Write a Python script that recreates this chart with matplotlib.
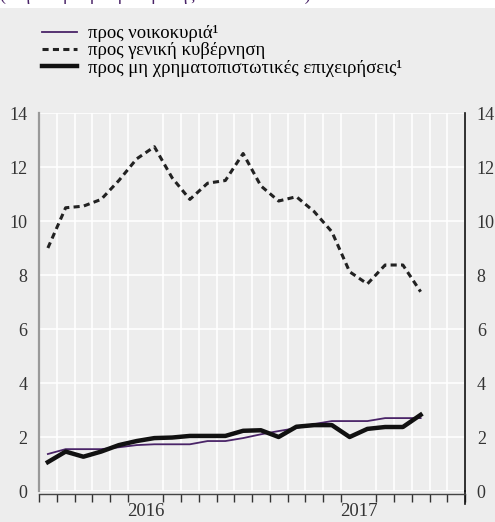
import numpy as np
import matplotlib.pyplot as plt
from matplotlib.patches import Rectangle

plt.rcParams['font.family'] = ['Liberation Serif', 'DejaVu Serif']

# μηνιαία στοιχεία Ιαν. 2016 - Οκτ. 2017 (%)
households = [1.37, 1.55, 1.55, 1.55, 1.62, 1.70, 1.73, 1.73, 1.73, 1.85, 1.85, 1.96,
              2.10, 2.22, 2.33, 2.48, 2.59, 2.59, 2.59, 2.70, 2.70, 2.70]
government = [9.0, 10.49, 10.55, 10.8, 11.5, 12.3, 12.75, 11.6, 10.8, 11.4, 11.5, 12.5,
              11.3, 10.74, 10.9, 10.35, 9.6, 8.12, 7.67, 8.37, 8.37, 7.38]
nfc = [1.07, 1.46, 1.27, 1.46, 1.70, 1.85, 1.96, 1.98, 2.04, 2.04, 2.04, 2.23,
       2.25, 2.0, 2.38, 2.44, 2.44, 2.0, 2.3, 2.37, 2.37, 2.82]
years = ['2016', '2017']
n_months = 24
yticks = [0, 2, 4, 6, 8, 10, 12, 14]

bg = '#ededed'
purple = '#4a2468'

fig = plt.figure(figsize=(4.95, 5.22), dpi=100, facecolor=bg)
fig.patches.append(Rectangle((0, 1 - 8 / 522), 1, 8 / 522, transform=fig.transFigure,
                             facecolor='white', edgecolor='none', zorder=0))
fig.text(0.0, 1.008, '(ετήσιοι ρυθμοί μεταβολής του υπολοίπου)', color=purple,
         fontsize=13, va='center', ha='left')

ax = fig.add_axes([39 / 495, 1 - 491 / 522, 426 / 495, 378 / 522])
ax.set_facecolor(bg)

x = np.arange(len(households)) + 0.5
ax.plot(x, households, color=purple, lw=1.3, label='προς νοικοκυριά¹', zorder=3)
ax.plot(x, government, color='#222222', lw=2.2, ls=(0, (2, 1.4)),
        label='προς γενική κυβέρνηση', zorder=3)
ax.plot(x, nfc, color='#111111', lw=3.2, label='προς μη χρηματοπιστωτικές επιχειρήσεις¹',
        zorder=4)

ax.set_xlim(0, n_months)
ax.set_ylim(0, 14)

# πλέγμα
ax.set_yticks(yticks)
ax.set_xticks(np.arange(0, n_months + 1), minor=True)
ax.set_xticks([6, 18])
ax.set_xticklabels(years)
ax.grid(True, which='minor', axis='x', color='white', lw=1.2)
ax.grid(True, which='major', axis='y', color='white', lw=1.2)
ax.set_axisbelow(True)

ax.tick_params(axis='y', length=0, labelsize=13, labelcolor='#333333', pad=8.5,
               labelright=True, right=False)
ax.tick_params(axis='x', which='major', length=0, labelsize=13.5, labelcolor='#333333', pad=7)
ax.tick_params(axis='x', which='minor', length=6, width=1, color='#333333', direction='out')

ax.spines['top'].set_visible(False)
ax.spines['left'].set_color('#999999')
ax.spines['left'].set_linewidth(1.6)
ax.spines['right'].set_color('#111111')
ax.spines['right'].set_linewidth(1.2)
ax.spines['bottom'].set_color('#444444')
ax.spines['bottom'].set_linewidth(1.0)
ax.spines['bottom'].set_position(('outward', 2))
ax.plot([1, 1], [0, -0.035], transform=ax.transAxes, color='#111111', lw=1.2, clip_on=False)

fig.legend(loc='upper left', bbox_to_anchor=(0.07, 0.966), frameon=False, fontsize=13.5,
           handlelength=1.85, handletextpad=0.6, labelspacing=0.0, borderaxespad=0)

fig.savefig('out.png', dpi=100, facecolor=bg)
